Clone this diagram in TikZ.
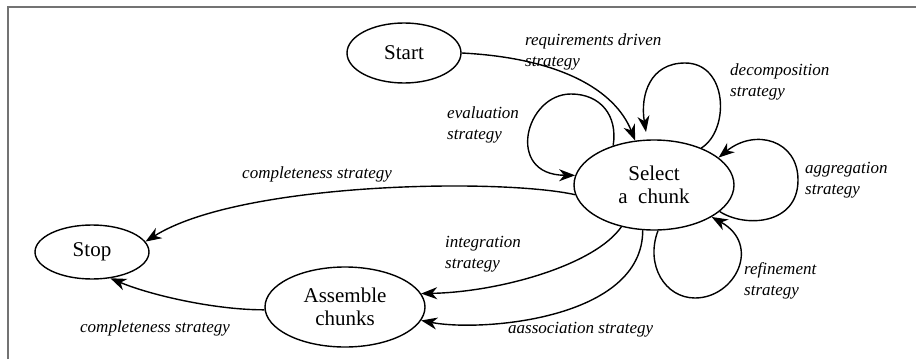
\documentclass[tikz,border=0pt]{standalone}
\usepackage{fontspec}
\setmainfont{Liberation Serif}
\usetikzlibrary{shapes.geometric,arrows.meta}
\begin{document}
\begin{tikzpicture}[x=1pt,y=-1pt,
  state/.style={draw,ellipse,line width=1.4pt,inner sep=0pt,align=center,
    font=\fontsize{21}{23}\selectfont},
  lab/.style={inner sep=0pt,anchor=west,align=left,
    font=\fontsize{17}{21}\selectfont\itshape},
  conn/.style={line width=1.4pt,-{Stealth[length=16pt,width=12pt,inset=5pt]}},
  frame/.style={line width=2pt,draw=black!55}]

\useasboundingbox (0,0) rectangle (916,359);

% open frame: top and left rules only
\draw[frame] (8,359) -- (8,6.5) -- (916,6.5);

% states
\node[state,minimum width=114pt,minimum height=60pt] (st)  at (404,53)  {Start};
\node[state,minimum width=160pt,minimum height=90pt] (sel) at (654,185) {Select\\a~~chunk};
\node[state,minimum width=114pt,minimum height=54pt] (sp)  at (92,252)  {Stop};
\node[state,minimum width=160pt,minimum height=80pt] (asm) at (345,307) {Assemble\\chunks};

% labels
\node[lab] (lreq)  at (525,52)  {requirements driven\\strategy};
\node[lab] (leval) at (447,125) {evaluation\\strategy};
\node[lab] (ldec)  at (730,82)  {decomposition\\strategy};
\node[lab] (lagg)  at (805,180) {aggregation\\strategy};
\node[lab] (lref)  at (744,281) {refinement\\strategy};
\node[lab] (lint)  at (445,254) {integration\\strategy};
\node[lab] (lass)  at (508,330) {aassociation strategy};
\node[lab] (lct)   at (242,174) {completeness strategy};
\node[lab] (lcb)   at (80,328)  {completeness strategy};

% transitions
\draw[conn] (st.east) .. controls (560,58) and (615,90) .. (sel.113);

% evaluation loop
\draw[conn] (sel.136) .. controls (618,115) and (600,94) .. (571,94)
  .. controls (525,94) and (505,175) .. (sel.173);

% decomposition loop
\draw[conn] (sel.38) .. controls (730,130) and (728,63) .. (685,63)
  .. controls (650,63) and (640,95) .. (646,132);

% aggregation loop
\draw[conn] (sel.-22) .. controls (745,228) and (798,225) .. (798,180)
  .. controls (798,140) and (755,128) .. (sel.23);

% refinement loop
\draw[conn] (sel.-85) .. controls (645,265) and (665,298) .. (695,298)
  .. controls (735,298) and (762,245) .. (sel.-29);

% towards assembling
\draw[conn] (sel.-128) .. controls (595,265) and (500,292) .. (asm.10);
\draw[conn] (sel.-104) .. controls (643,320) and (480,332) .. (asm.-10);

% completeness
\draw[conn] (sel.187) .. controls (500,178) and (240,182) .. (sp.11);
\draw[conn] (asm.182) .. controls (215,310) and (150,295) .. (sp.-55);

\end{tikzpicture}
\end{document}
